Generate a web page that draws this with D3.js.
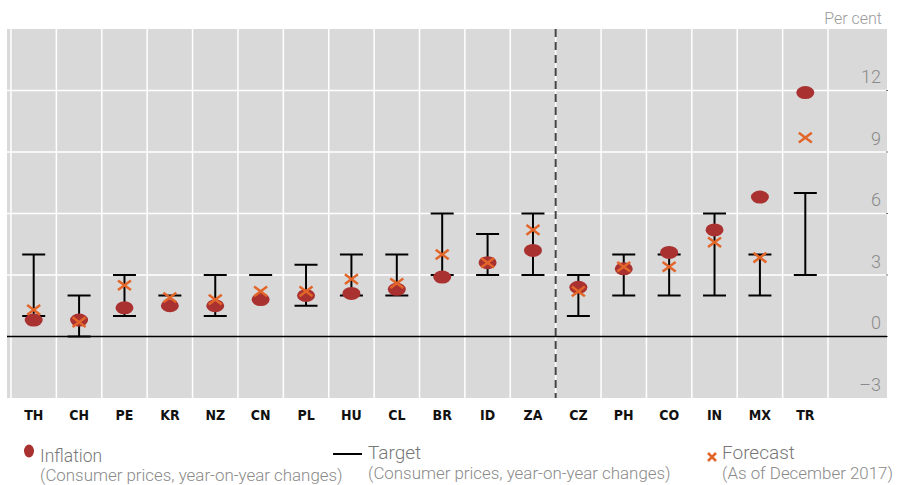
<!DOCTYPE html>
<html><head><meta charset="utf-8">
<script src="https://cdn.jsdelivr.net/npm/d3@7"></script>
<style>
html,body{margin:0;padding:0;background:#fff;}
svg{display:block;}
</style></head>
<body><svg id="chart" width="897" height="485"></svg>
<script>
const categories = ["TH","CH","PE","KR","NZ","CN","PL","HU","CL","BR","ID","ZA","CZ","PH","CO","IN","MX","TR"];
const inflation  = [0.8,0.8,1.4,1.5,1.5,1.8,2.0,2.1,2.3,2.9,3.6,4.2,2.4,3.3,4.1,5.2,6.8,11.9];
const targetLow  = [1,0,1,2,1,3,1.5,2,2,3,3,3,1,2,2,2,2,3];
const targetHigh = [4,2,3,2,3,3,3.5,4,4,6,5,6,3,4,4,6,4,7];
const forecast   = [1.3,0.7,2.5,1.9,1.8,2.2,2.2,2.8,2.6,4.0,3.6,5.2,2.2,3.4,3.4,4.6,3.85,9.7];
const yTicks = [-3,0,3,6,9,12];
const legendLabels = ["Inflation","Target","Forecast"];
const legendSubs = ["(Consumer prices, year-on-year changes)","(Consumer prices, year-on-year changes)","(As of December 2017)"];

const svg = d3.select("#chart");
const P = {left:7, right:887, top:29, bottom:398};
const x = d3.scaleBand().domain(categories).range([11, 828]).padding(0);
const y = d3.scaleLinear().domain([-3, 15]).range([P.bottom, P.top]);
const lightFont = "Roboto, 'Open Sans', sans-serif";
const txtGray = "#8a8a8a";

// background
svg.append("rect").attr("x",P.left).attr("y",P.top).attr("width",P.right-P.left).attr("height",P.bottom-P.top).attr("fill","#d9d9d9");

// vertical grid lines
const vlines = categories.map(c=>x(c)).concat([x(categories[categories.length-1])+x.bandwidth()]);
svg.append("g").selectAll("line").data(vlines).join("line")
  .attr("x1",d=>d).attr("x2",d=>d).attr("y1",P.top).attr("y2",P.bottom)
  .attr("stroke","#fff").attr("stroke-width",1.5);

// horizontal grid lines
svg.append("g").selectAll("line").data(yTicks.filter(t=>t>-3 && t!==0)).join("line")
  .attr("x1",P.left).attr("x2",P.right).attr("y1",d=>y(d)).attr("y2",d=>y(d))
  .attr("stroke","#fff").attr("stroke-width",1.5);

// y axis labels (inside right)
const yAxis = d3.axisLeft(y).tickValues(yTicks).tickSize(0).tickPadding(0).tickFormat(d=>d<0?"\u2013"+Math.abs(d):d);
const ga = svg.append("g").attr("transform",`translate(881,0)`).call(yAxis);
ga.select(".domain").remove();
ga.selectAll("text").attr("dy","-0.42em").attr("font-family",lightFont).attr("font-weight",300)
  .attr("font-size",18).attr("fill",txtGray).attr("text-anchor","end");

// small right ticks
svg.append("g").selectAll("line").data(yTicks.filter(t=>t>-3)).join("line")
  .attr("x1",P.right-1).attr("x2",P.right+1).attr("y1",d=>y(d)).attr("y2",d=>y(d))
  .attr("stroke","#777").attr("stroke-width",1);

svg.append("text").attr("x",882).attr("y",24).attr("text-anchor","end")
  .attr("font-family",lightFont).attr("font-weight",300).attr("font-size",16).attr("fill","#9a9a9a").text("Per cent");

// zero line
svg.append("line").attr("x1",P.left).attr("x2",P.right).attr("y1",y(0)).attr("y2",y(0))
  .attr("stroke","#000").attr("stroke-width",1.5);

// dashed separator
svg.append("line").attr("x1",x("CZ")).attr("x2",x("CZ")).attr("y1",P.top).attr("y2",P.bottom)
  .attr("stroke","#444").attr("stroke-width",2).attr("stroke-dasharray","8,5");

// x axis labels
const xAxis = d3.axisBottom(x).tickSize(0).tickPadding(0);
const gx = svg.append("g").attr("transform",`translate(0,${P.bottom})`).call(xAxis);
gx.select(".domain").remove();
gx.selectAll("text").attr("y",22).attr("dy",0).attr("font-family","'Liberation Sans Narrow','DejaVu Sans Condensed',sans-serif")
  .attr("font-weight","bold").attr("font-size",14).attr("fill","#111");

const cx = c => x(c) + x.bandwidth()/2;
const data = categories.map((c,i)=>({c, inf:inflation[i], lo:targetLow[i], hi:targetHigh[i], f:forecast[i]}));

// target bars
const capW = 11.5;
const tg = svg.append("g").attr("stroke","#000").attr("stroke-width",2);
tg.selectAll(".v").data(data.filter(d=>d.hi>d.lo)).join("line")
  .attr("x1",d=>cx(d.c)).attr("x2",d=>cx(d.c)).attr("y1",d=>y(d.lo)).attr("y2",d=>y(d.hi));
tg.selectAll(".hi").data(data).join("line")
  .attr("x1",d=>cx(d.c)-capW).attr("x2",d=>cx(d.c)+capW).attr("y1",d=>y(d.hi)).attr("y2",d=>y(d.hi));
tg.selectAll(".lo").data(data.filter(d=>d.hi>d.lo)).join("line")
  .attr("x1",d=>cx(d.c)-capW).attr("x2",d=>cx(d.c)+capW).attr("y1",d=>y(d.lo)).attr("y2",d=>y(d.lo));

// inflation dots
const red = "#a93130";
svg.append("g").selectAll("ellipse").data(data).join("ellipse")
  .attr("cx",d=>cx(d.c)).attr("cy",d=>y(d.inf)).attr("rx",9).attr("ry",6.5).attr("fill",red);

// forecast crosses
const orange = "#e2652a";
const xs = 6.5, ys = 4.8;
const fg = svg.append("g").attr("stroke",orange).attr("stroke-width",2.5);
fg.selectAll("path").data(data).join("path")
  .attr("d",d=>{const X=cx(d.c),Y=y(d.f);return `M${X-xs},${Y-ys}L${X+xs},${Y+ys}M${X-xs},${Y+ys}L${X+xs},${Y-ys}`;});

// legend
svg.append("ellipse").attr("cx",29).attr("cy",451).attr("rx",5).attr("ry",6.5).attr("fill",red);
svg.append("line").attr("x1",333).attr("x2",362).attr("y1",454).attr("y2",454).attr("stroke","#000").attr("stroke-width",2);
svg.append("path").attr("d","M708,453L716,461M708,461L716,453").attr("stroke",orange).attr("stroke-width",2.5);
const lx = [40,368,722], ly=[462,459,459], lsz=[17.5,19,19];
legendLabels.forEach((t,i)=>{
  svg.append("text").attr("x",lx[i]).attr("y",ly[i]).attr("font-family",lightFont).attr("font-weight",300)
    .attr("font-size",lsz[i]).attr("fill","#777").text(t);
  svg.append("text").attr("x",lx[i]).attr("y",i===0?481:479).attr("font-family",lightFont).attr("font-weight",300)
    .attr("font-size",16.9).attr("fill","#8a8a8a").text(legendSubs[i]);
});
</script></body></html>
